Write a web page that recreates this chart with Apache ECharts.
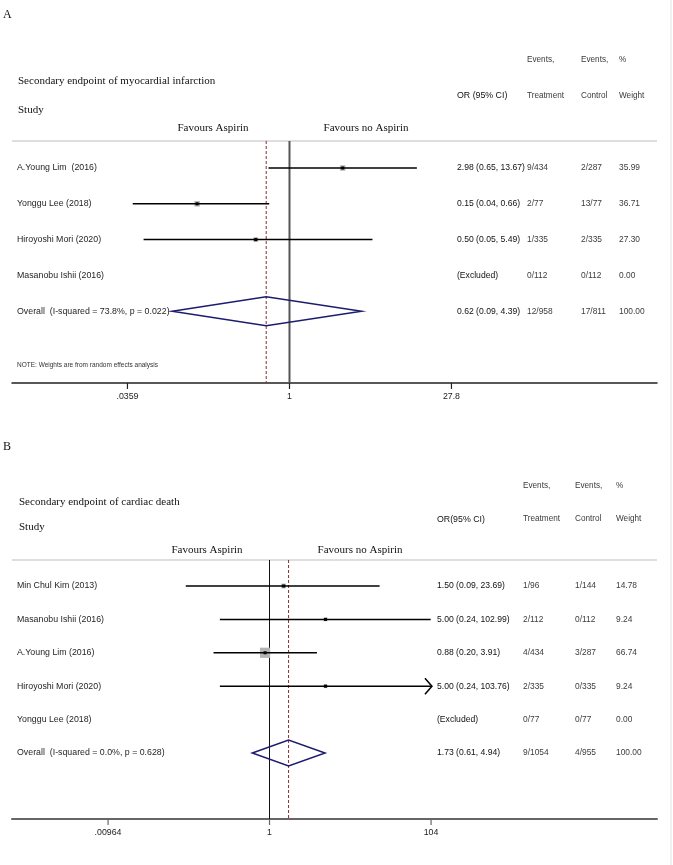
<!DOCTYPE html>
<html><head><meta charset="utf-8">
<script src="https://cdn.jsdelivr.net/npm/echarts@6/dist/echarts.min.js"></script>
<style>html,body{margin:0;padding:0;background:#fff}#c{width:673px;height:865px}</style>
</head><body><div id="c"></div>
<script>
// ---------- Panel A: myocardial infarction ----------
const studiesA = ['A.Young Lim  (2016)', 'Yonggu Lee (2018)', 'Hiroyoshi Mori (2020)', 'Masanobu Ishii (2016)', 'Overall  (I-squared = 73.8%, p = 0.022)'];
const orA = [2.98, 0.15, 0.50, null, 0.62];
const loA = [0.65, 0.04, 0.05, null, 0.09];
const hiA = [13.67, 0.66, 5.49, null, 4.39];
const treatA = ['9/434', '2/77', '1/335', '0/112', '12/958'];
const ctrlA = ['2/287', '13/77', '2/335', '0/112', '17/811'];
const weightA = [35.99, 36.71, 27.30, 0.00, 100.00];
const clippedA = [false, false, false, false, false];
const ticksA = [0.0359, 1, 27.8];
const tickLabelsA = ['.0359', '1', '27.8'];

// ---------- Panel B: cardiac death ----------
const studiesB = ['Min Chul Kim (2013)', 'Masanobu Ishii (2016)', 'A.Young Lim (2016)', 'Hiroyoshi Mori (2020)', 'Yonggu Lee (2018)', 'Overall  (I-squared = 0.0%, p = 0.628)'];
const orB = [1.50, 5.00, 0.88, 5.00, null, 1.73];
const loB = [0.09, 0.24, 0.20, 0.24, null, 0.61];
const hiB = [23.69, 102.99, 3.91, 103.76, null, 4.94];
const treatB = ['1/96', '2/112', '4/434', '2/335', '0/77', '9/1054'];
const ctrlB = ['1/144', '0/112', '3/287', '0/335', '0/77', '4/955'];
const weightB = [14.78, 9.24, 66.74, 9.24, 0.00, 100.00];
const clippedB = [false, false, false, true, false, false];
const ticksB = [0.00964, 1, 104];
const tickLabelsB = ['.00964', '1', '104'];

const SANS = 'Liberation Sans';
const SERIF = 'Liberation Serif';

function fmt(v) { return v.toFixed(2); }
function orText(o, l, h) { return o == null ? '(Excluded)' : fmt(o) + ' (' + fmt(l) + ', ' + fmt(h) + ')'; }

const panels = [
  { studies: studiesA, or: orA, lo: loA, hi: hiA, treat: treatA, ctrl: ctrlA, weight: weightA, clipped: clippedA,
    ticks: ticksA, tickLabels: tickLabelsA,
    grid: { left: 12, right: 16, top: 141, height: 242 }, xMin: 0.003355, xMax: 1891.6, yMin: -0.754, yMax: 6.006,
    cols: [17, 457, 527, 581, 619], boxK: 0.9, diamondH: 14.5,
    nullStyle: { stroke: '#555', lineWidth: 2 }, axisColor: '#222', axisWidth: 1.5 },
  { studies: studiesB, or: orB, lo: loB, hi: hiB, treat: treatB, ctrl: ctrlB, weight: weightB, clipped: clippedB,
    ticks: ticksB, tickLabels: tickLabelsB,
    grid: { left: 12, right: 16, top: 560, height: 259 }, xMin: 0.000609, xMax: 68920, yMin: -0.778, yMax: 6.976,
    cols: [17, 437, 523, 575, 616], boxK: 1.25, diamondH: 13,
    nullStyle: { stroke: '#111', lineWidth: 1 }, axisColor: '#666', axisWidth: 2 }
];

function txt(t, x, y, o) {
  o = o || {};
  const al = o.align || 'left';
  return { type: 'text', x: x, y: y, silent: true,
    style: { text: t, fill: o.fill || '#222', fontSize: o.size || 8.6, fontFamily: o.family || SANS,
      align: al, textAlign: al, verticalAlign: 'middle', textVerticalAlign: 'middle' } };
}

const grids = [], xAxes = [], yAxes = [], series = [];
panels.forEach(function (p, gi) {
  const last = p.studies.length - 1;
  grids.push(Object.assign({ containLabel: false }, p.grid));
  xAxes.push({ gridIndex: gi, type: 'log', logBase: 10, min: p.xMin, max: p.xMax, position: 'bottom',
    axisLine: { show: true, onZero: false, lineStyle: { color: p.axisColor, width: p.axisWidth } },
    axisTick: { show: false }, axisLabel: { show: false }, splitLine: { show: false } });
  yAxes.push({ gridIndex: gi, type: 'value', inverse: true, min: p.yMin, max: p.yMax, show: false, splitLine: { show: false } });

  // reference lines: null (OR = 1) and overall estimate
  series.push({ type: 'custom', xAxisIndex: gi, yAxisIndex: gi, clip: false, silent: true, z: 1,
    data: [[1, 0], [p.or[last], 0]],
    renderItem: function (params, api) {
      const x = api.value(0);
      const a = api.coord([x, p.yMin]);
      const b = api.coord([x, p.yMax]);
      const st = params.dataIndex === 0
        ? { stroke: p.nullStyle.stroke, lineWidth: p.nullStyle.lineWidth }
        : { stroke: '#8b2c2c', lineWidth: 1, lineDash: [3, 2] };
      return { type: 'line', shape: { x1: a[0], y1: a[1], x2: b[0], y2: b[1] }, style: st };
    } });

  // study markers & overall diamond
  series.push({ type: 'custom', xAxisIndex: gi, yAxisIndex: gi, clip: false, silent: true, z: 3,
    data: p.studies.map(function (s, i) { return [p.or[i] == null ? 1 : p.or[i], i]; }),
    renderItem: function (params, api) {
      const i = params.dataIndex;
      if (p.or[i] == null) return { type: 'group', children: [] };
      const c = api.coord([p.or[i], i]);
      const l = api.coord([p.lo[i], i]);
      const h = api.coord([p.hi[i], i]);
      if (i === last) {
        return { type: 'polygon', shape: { points: [[l[0], c[1]], [c[0], c[1] - p.diamondH], [h[0], c[1]], [c[0], c[1] + p.diamondH]] },
          style: { fill: 'none', stroke: '#1c1c6e', lineWidth: 1.5 } };
      }
      const s = p.boxK * Math.sqrt(p.weight[i]);
      const ch = [
        { type: 'rect', shape: { x: c[0] - s / 2, y: c[1] - s / 2, width: s, height: s }, style: { fill: '#b4b4b4' } },
        { type: 'line', shape: { x1: l[0], y1: c[1], x2: h[0], y2: c[1] }, style: { stroke: '#000', lineWidth: 1.5 } },
        { type: 'rect', shape: { x: c[0] - 1.5, y: c[1] - 1.5, width: 3, height: 3 }, style: { fill: '#000' } }
      ];
      if (p.clipped[i]) {
        ch.push({ type: 'polyline', shape: { points: [[h[0] - 6, c[1] - 8], [h[0] + 1, c[1]], [h[0] - 6, c[1] + 8]] },
          style: { fill: 'none', stroke: '#000', lineWidth: 1.5 } });
      }
      return { type: 'group', children: ch };
    } });

  // table text
  series.push({ type: 'custom', xAxisIndex: gi, yAxisIndex: gi, clip: false, silent: true, z: 4,
    data: p.studies.map(function (s, i) { return [1, i]; }),
    renderItem: function (params, api) {
      const i = params.dataIndex;
      const y = api.coord([1, i])[1];
      const cells = [p.studies[i], orText(p.or[i], p.lo[i], p.hi[i]), p.treat[i], p.ctrl[i], fmt(p.weight[i])];
      const colors = ['#1e1e1e', '#111', '#3c3c3c', '#3c3c3c', '#3c3c3c'];
      const sizes = [8.8, 8.6, 8.4, 8.4, 8.4];
      return { type: 'group', children: cells.map(function (t, k) { return txt(t, p.cols[k], y, { fill: colors[k], size: sizes[k] }); }) };
    } });

  // axis ticks and labels
  series.push({ type: 'custom', xAxisIndex: gi, yAxisIndex: gi, clip: false, silent: true, z: 4,
    data: p.ticks.map(function (v) { return [v, 0]; }),
    renderItem: function (params, api) {
      const b = api.coord([api.value(0), p.yMax]);
      return { type: 'group', children: [
        { type: 'line', shape: { x1: b[0], y1: b[1], x2: b[0], y2: b[1] + 6 }, style: { stroke: p.axisColor, lineWidth: 1.2 } },
        txt(p.tickLabels[params.dataIndex], b[0], b[1] + 14, { align: 'center', fill: '#222', size: 8.8 })
      ] };
    } });
});

const hdr = '#3a3a3a';
const graphics = [
  // right border
  { type: 'line', shape: { x1: 671, y1: 0, x2: 671, y2: 865 }, style: { stroke: '#e2e2e2', lineWidth: 1 }, silent: true },
  // Panel A header
  txt('A', 3, 15, { family: SERIF, size: 12, fill: '#111' }),
  txt('Events,', 527, 60, { fill: hdr, size: 8.2 }), txt('Events,', 581, 60, { fill: hdr, size: 8.2 }), txt('%', 619, 60, { fill: hdr, size: 8.2 }),
  txt('Secondary endpoint of myocardial infarction', 18, 81, { family: SERIF, size: 11, fill: '#111' }),
  txt('OR (95% CI)', 457, 96, { fill: '#111', size: 8.8 }),
  txt('Treatment', 527, 96, { fill: hdr, size: 8.2 }), txt('Control', 581, 96, { fill: hdr, size: 8.2 }), txt('Weight', 619, 96, { fill: hdr, size: 8.2 }),
  txt('Study', 18, 110, { family: SERIF, size: 11, fill: '#111' }),
  txt('Favours Aspirin', 213, 128, { family: SERIF, size: 11, fill: '#111', align: 'center' }),
  txt('Favours no Aspirin', 366, 128, { family: SERIF, size: 11, fill: '#111', align: 'center' }),
  { type: 'line', shape: { x1: 12, y1: 141, x2: 657, y2: 141 }, style: { stroke: '#bdbdbd', lineWidth: 1 }, silent: true },
  txt('NOTE: Weights are from random effects analysis', 17, 365, { size: 6.5, fill: '#333' }),
  // Panel B header
  txt('B', 3, 447, { family: SERIF, size: 12, fill: '#111' }),
  txt('Events,', 523, 486, { fill: hdr, size: 8.2 }), txt('Events,', 575, 486, { fill: hdr, size: 8.2 }), txt('%', 616, 486, { fill: hdr, size: 8.2 }),
  txt('Secondary endpoint of cardiac death', 19, 502, { family: SERIF, size: 11, fill: '#111' }),
  txt('OR(95% CI)', 437, 520, { fill: '#111', size: 8.8 }),
  txt('Treatment', 523, 519, { fill: hdr, size: 8.2 }), txt('Control', 575, 519, { fill: hdr, size: 8.2 }), txt('Weight', 616, 519, { fill: hdr, size: 8.2 }),
  txt('Study', 19, 527, { family: SERIF, size: 11, fill: '#111' }),
  txt('Favours Aspirin', 207, 550, { family: SERIF, size: 11, fill: '#111', align: 'center' }),
  txt('Favours no Aspirin', 360, 550, { family: SERIF, size: 11, fill: '#111', align: 'center' }),
  { type: 'line', shape: { x1: 12, y1: 560, x2: 657, y2: 560 }, style: { stroke: '#bdbdbd', lineWidth: 1 }, silent: true }
];

const chart = echarts.init(document.getElementById('c'), null, { renderer: 'canvas' });
chart.setOption({
  animation: false,
  backgroundColor: '#fff',
  grid: grids, xAxis: xAxes, yAxis: yAxes, series: series,
  graphic: { elements: graphics }
});
</script>
</body></html>
